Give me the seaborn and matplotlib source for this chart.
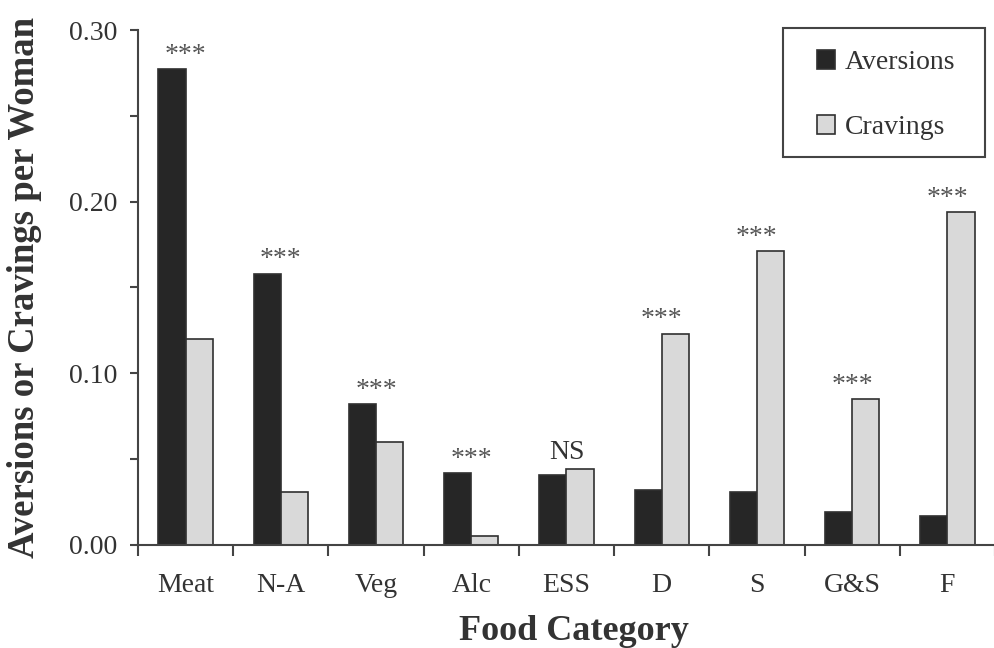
import numpy as np
import pandas as pd
import matplotlib
matplotlib.use("Agg")
import matplotlib.pyplot as plt
from matplotlib.patches import Rectangle
import seaborn as sns

# --- data ---
categories = ["Meat", "N-A", "Veg", "Alc", "ESS", "D", "S", "G&S", "F"]
aversions = [0.277, 0.158, 0.082, 0.042, 0.041, 0.032, 0.031, 0.019, 0.017]
cravings = [0.120, 0.031, 0.060, 0.005, 0.044, 0.123, 0.171, 0.085, 0.194]
significance = ["***", "***", "***", "***", "NS", "***", "***", "***", "***"]

df = pd.DataFrame({
    "category": categories * 2,
    "value": aversions + cravings,
    "kind": ["Aversions"] * len(categories) + ["Cravings"] * len(categories),
})

sns.set_theme(style="ticks")
plt.rcParams["font.family"] = ["Liberation Serif", "DejaVu Serif"]

fig = plt.figure(figsize=(9.95, 6.48), dpi=100)
ax = fig.add_axes([138 / 995, 103 / 648, 857 / 995, 515 / 648])

palette = {"Aversions": "#262626", "Cravings": "#d9d9d9"}
sns.barplot(data=df, x="category", y="value", hue="kind", order=categories,
            palette=palette, width=0.57, saturation=1, ax=ax,
            edgecolor="#303030", linewidth=1.2)

ax.set_ylim(0, 0.30)
ax.set_xlim(-0.5, 8.4)
ax.set_yticks([0.0, 0.1, 0.2, 0.3])
ax.set_yticklabels(["0.00", "0.10", "0.20", "0.30"])
ax.set_yticks(np.arange(0.05, 0.30, 0.1), minor=True)
ax.set_xticks(np.arange(-0.5, 9.0, 1.0), minor=True)
ax.tick_params(axis="x", which="major", length=0, pad=20, labelsize=20, colors="#333333")
ax.tick_params(axis="x", which="minor", length=8, width=1.5, color="#444444")
ax.tick_params(axis="y", which="both", length=6, width=1.5, pad=9, labelsize=20,
               color="#444444", labelcolor="#333333")

for side in ["top", "right"]:
    ax.spines[side].set_visible(False)
for side in ["left", "bottom"]:
    ax.spines[side].set_linewidth(1.5)
    ax.spines[side].set_color("#444444")

ax.set_xlabel("Food Category", fontsize=26, fontweight="bold", color="#333333")
ax.set_ylabel("Aversions or Cravings per Woman", fontsize=26.5, fontweight="bold", color="#333333")
ax.xaxis.set_label_coords(0.509, -0.135)
ax.yaxis.set_label_coords(-0.112, 0.5)

# significance marks above each pair
for i, mark in enumerate(significance):
    top = max(aversions[i], cravings[i])
    if mark == "NS":
        ax.annotate(mark, (i, top), xytext=(0, 3), textcoords="offset points",
                    ha="center", va="bottom", fontsize=20, color="#333333")
    else:
        ax.annotate("***", (i, top), xytext=(0, 1), textcoords="offset points",
                    ha="center", va="bottom", fontsize=20, color="#555555")

# legend without its own frame, boxed by a plain rectangle like the original
handles, labels = ax.get_legend_handles_labels()
leg = ax.legend(handles, labels, loc="upper left", bbox_to_anchor=(817 / 995, 1 - 50 / 648),
                bbox_transform=fig.transFigure, borderaxespad=0, borderpad=0, fontsize=20,
                handlelength=0.65, handleheight=0.65, handletextpad=0.35,
                labelspacing=1.45, frameon=False)
for t in leg.get_texts():
    t.set_color("#333333")
fig.patches.append(Rectangle((783 / 995, 1 - 157 / 648), 202 / 995, 129 / 648,
                             transform=fig.transFigure, fill=False,
                             edgecolor="#444444", linewidth=1.5))

fig.savefig("out.png", dpi=100)
